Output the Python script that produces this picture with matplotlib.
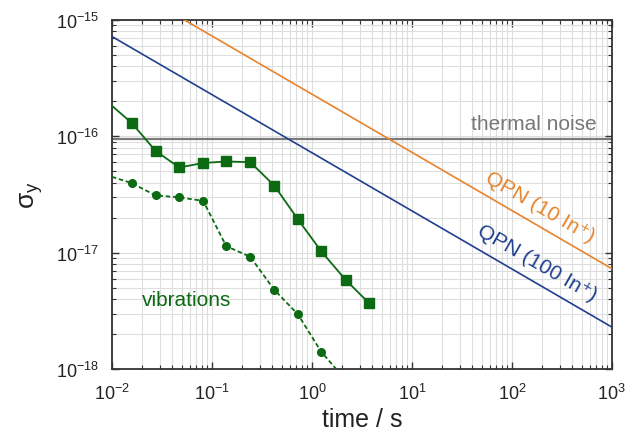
import numpy as np
import matplotlib
matplotlib.use("Agg")
from matplotlib import pyplot as plt

plt.rcParams['font.family'] = ['Liberation Sans', 'DejaVu Sans']
plt.rcParams['mathtext.fontset'] = 'custom'
plt.rcParams['mathtext.rm'] = 'Liberation Sans'
plt.rcParams['mathtext.it'] = 'Liberation Sans'
plt.rcParams['axes.unicode_minus'] = False

# clock instability
t_meas = [0.0100, 0.0158, 0.0273, 0.0471, 0.0818, 0.139, 0.2415, 0.42, 0.724, 1.24, 2.17, 3.72]
s_meas = [1.83e-16, 1.30e-16, 7.5e-17, 5.4e-17, 5.9e-17, 6.08e-17, 6.0e-17, 3.78e-17,
          1.94e-17, 1.03e-17, 5.86e-18, 3.7e-18]
# vibration contribution
t_vib = [0.0100, 0.0157, 0.0273, 0.0471, 0.0818, 0.139, 0.2415, 0.42, 0.724, 1.24, 2.17]
s_vib = [4.49e-17, 3.97e-17, 3.11e-17, 2.99e-17, 2.79e-17, 1.14e-17, 9.25e-18, 4.81e-18,
         2.96e-18, 1.41e-18, 8.1e-19]
# quantum projection noise lines (end points)
t_qpn = [1e-2, 1e3]
s_qpn10 = [2.3e-15, 7.3e-18]
s_qpn100 = [7.2e-16, 2.3e-18]
thermal = 9.5e-17

xticks = [1e-2, 1e-1, 1e0, 1e1, 1e2, 1e3]
yticks = [1e-18, 1e-17, 1e-16, 1e-15]

green = '#0b6a12'
orange = '#e8832b'
blue = '#1f3f8e'

fig = plt.figure(figsize=(6.36, 4.35), dpi=100)
ax = fig.add_axes([0.176, 0.149, 0.786, 0.803])

ax.axhline(thermal, color='#7a7a7a', lw=1.6, zorder=2)
ax.plot(t_qpn, s_qpn10, color=orange, lw=1.2, zorder=3)
ax.plot(t_qpn, s_qpn100, color=blue, lw=1.2, zorder=3)
ax.plot(t_meas, s_meas, '-s', color=green, lw=1.3, ms=7.5, markevery=slice(1, None), zorder=4)
ax.plot(t_vib, s_vib, '--o', color=green, lw=1.3, ms=5.5, dashes=(2.5, 1.5),
        markevery=slice(1, None), zorder=4)

ax.set_xscale('log')
ax.set_yscale('log')
ax.set_xticks(xticks)
ax.set_yticks(yticks)
ax.set_xlim(1e-2, 1e3)
ax.set_ylim(1e-18, 1e-15)

ax.grid(True, which='both', color='#dedede', lw=0.8, zorder=0)
ax.set_axisbelow(True)
ax.tick_params(which='both', direction='in', top=True, right=True, colors='#333333',
               labelcolor='#222222', labelsize=13)
ax.tick_params(which='major', length=5, width=1)
ax.tick_params(which='minor', length=3, width=0.8)
ax.tick_params(axis='x', which='major', pad=10)
ax.tick_params(axis='y', which='major', pad=9)
for sp in ax.spines.values():
    sp.set_color('#333333')
    sp.set_linewidth(1.3)

ax.set_xlabel('time / s', fontsize=18, color='#222222', labelpad=3)
ax.set_ylabel(r'$\mathregular{\sigma_y}$', fontsize=19, color='#222222', labelpad=8)

ax.text(708, 1.3e-16, 'thermal noise', color='#777777', fontsize=15, ha='right', va='center')
ax.text(0.0559, 4.0e-18, 'vibrations', color=green, fontsize=15, ha='center', va='center')
ax.text(190, 2.5e-17, 'QPN (10 In\u207a)', color=orange, fontsize=15,
        ha='center', va='center', rotation=-30, rotation_mode='anchor')
ax.text(178, 8.3e-18, 'QPN (100 In\u207a)', color=blue, fontsize=15,
        ha='center', va='center', rotation=-30, rotation_mode='anchor')

fig.savefig('out.png', dpi=100)
